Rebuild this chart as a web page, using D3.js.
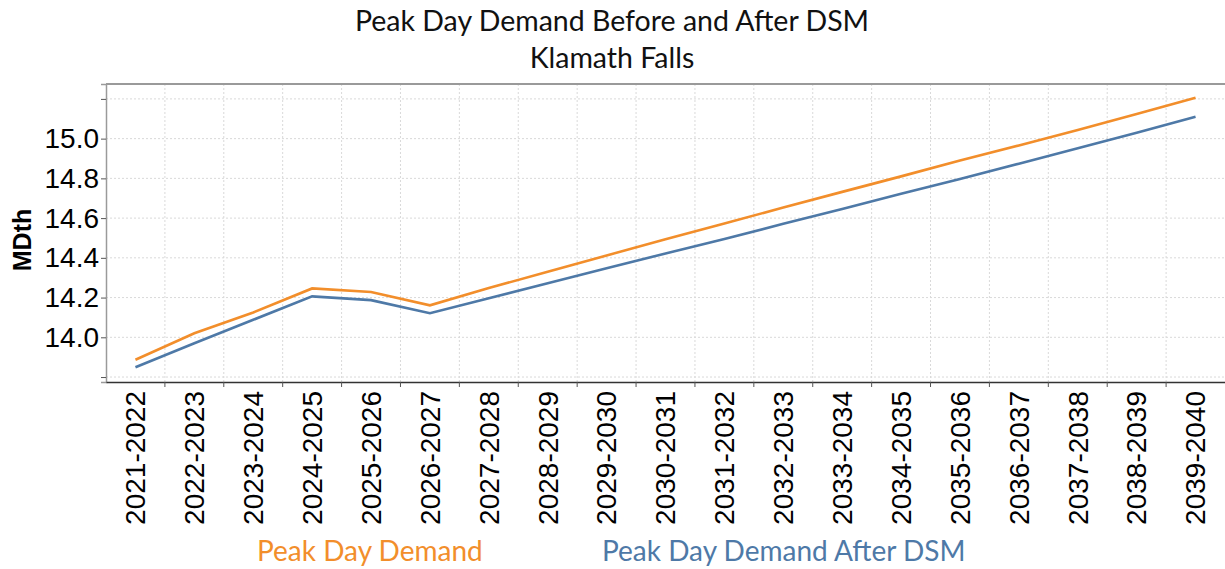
<!DOCTYPE html>
<html>
<head>
<meta charset="utf-8">
<script src="https://d3js.org/d3.v7.min.js"></script>
<style>
    body { margin: 0; background: #fff; }
    .chart-title { font-family: Lato, 'Open Sans', sans-serif; font-size: 28.5px; fill: #111; }
    .tick text { font-family: 'Liberation Sans', Arial, sans-serif; font-size: 28px; fill: #000; }
    .grid line { stroke: #d9d9d9; stroke-dasharray: 2, 2; }
    .series { fill: none; stroke-width: 2.6; }
    .legend { font-family: Lato, 'Open Sans', sans-serif; font-size: 28px; }
</style>
</head>
<body>
<svg id="chart" width="1225" height="569"></svg>
<script>
    const seasons = ["2021-2022", "2022-2023", "2023-2024", "2024-2025", "2025-2026",
        "2026-2027", "2027-2028", "2028-2029", "2029-2030", "2030-2031", "2031-2032",
        "2032-2033", "2033-2034", "2034-2035", "2035-2036", "2036-2037", "2037-2038",
        "2038-2039", "2039-2040"];
    const peakDemand = [13.887, 14.02, 14.125, 14.246, 14.228, 14.161, 14.248, 14.33,
        14.412, 14.493, 14.573, 14.653, 14.732, 14.81, 14.89, 14.966, 15.044, 15.124, 15.206];
    const peakAfterDsm = [13.849, 13.97, 14.088, 14.206, 14.187, 14.121, 14.197, 14.272,
        14.347, 14.422, 14.495, 14.571, 14.646, 14.722, 14.797, 14.874, 14.952, 15.03, 15.11];
    const yTicks = [13.8, 14.0, 14.2, 14.4, 14.6, 14.8, 15.0, 15.2];
    const yLabels = [14.0, 14.2, 14.4, 14.6, 14.8, 15.0];
    const seriesNames = ["Peak Day Demand", "Peak Day Demand After DSM"];
    const seriesColors = ["#f28e2b", "#4e79a7"];

    const margin = { left: 106, top: 84, right: 0, bottom: 186 };
    const width = 1225 - margin.left - margin.right;
    const height = 569 - margin.top - margin.bottom - 1;

    const svg = d3.select("#chart");
    const g = svg.append("g").attr("transform", `translate(${margin.left},${margin.top})`);

    const x = d3.scaleBand().domain(seasons).range([0, width]);
    const y = d3.scaleLinear().domain([13.775, 15.275]).range([height, 0]);

    // titles
    svg.append("text").attr("class", "chart-title")
        .attr("x", 612).attr("y", 31).attr("text-anchor", "middle")
        .text("Peak Day Demand Before and After DSM");
    svg.append("text").attr("class", "chart-title")
        .attr("x", 612).attr("y", 68).attr("text-anchor", "middle")
        .text("Klamath Falls");

    // grid
    const grid = g.append("g").attr("class", "grid");
    grid.selectAll("line.h").data(yTicks).enter().append("line")
        .attr("x1", 0).attr("x2", width)
        .attr("y1", d => y(d)).attr("y2", d => y(d));
    grid.selectAll("line.v").data(seasons.slice(1)).enter().append("line")
        .attr("x1", d => x(d)).attr("x2", d => x(d))
        .attr("y1", 0).attr("y2", height);

    // frame top
    g.append("line").attr("x1", 0).attr("x2", width).attr("y1", 0).attr("y2", 0)
        .attr("stroke", "#9a9a9a").attr("stroke-width", 2);

    // y axis
    const yAxis = g.append("g")
        .call(d3.axisLeft(y).tickValues(yTicks).tickSize(5).tickPadding(2)
            .tickFormat(d => yLabels.some(v => Math.abs(v - d) < 1e-9) ? d3.format(".1f")(d) : ""));
    yAxis.select(".domain").attr("stroke", "#9a9a9a").attr("stroke-width", 1.5);
    yAxis.selectAll(".tick line").attr("stroke", "#555");

    svg.append("text")
        .attr("transform", "translate(31,240) rotate(-90)")
        .attr("text-anchor", "middle")
        .style("font-family", "'Liberation Sans', Arial, sans-serif")
        .style("font-weight", "bold").style("font-size", "25px")
        .text("MDth");

    // x axis
    const xAxis = g.append("g").attr("transform", `translate(0,${height})`)
        .call(d3.axisBottom(x).tickSize(0).tickPadding(0));
    xAxis.select(".domain").attr("stroke", "#333").attr("stroke-width", 1.5);
    xAxis.selectAll(".tick text")
        .attr("transform", "rotate(-90)")
        .attr("text-anchor", "end")
        .attr("x", -9).attr("y", 0).attr("dy", "0.35em");
    xAxis.selectAll("line.bt").data(seasons.slice(1)).enter().append("line")
        .attr("class", "bt")
        .attr("x1", d => x(d)).attr("x2", d => x(d))
        .attr("y1", 0).attr("y2", 5).attr("stroke", "#555");

    // lines
    const line = d3.line()
        .x((d, i) => x(seasons[i]) + x.bandwidth() / 2)
        .y(d => y(d));
    [peakDemand, peakAfterDsm].forEach((vals, k) => {
        g.append("path").attr("class", "series")
            .attr("stroke", seriesColors[k])
            .attr("d", line(vals));
    });

    // legend
    const legendX = [257, 602];
    seriesNames.forEach((name, k) => {
        svg.append("text").attr("class", "legend")
            .attr("x", legendX[k]).attr("y", 561)
            .attr("fill", seriesColors[k])
            .text(name);
    });
</script>
</body>
</html>
